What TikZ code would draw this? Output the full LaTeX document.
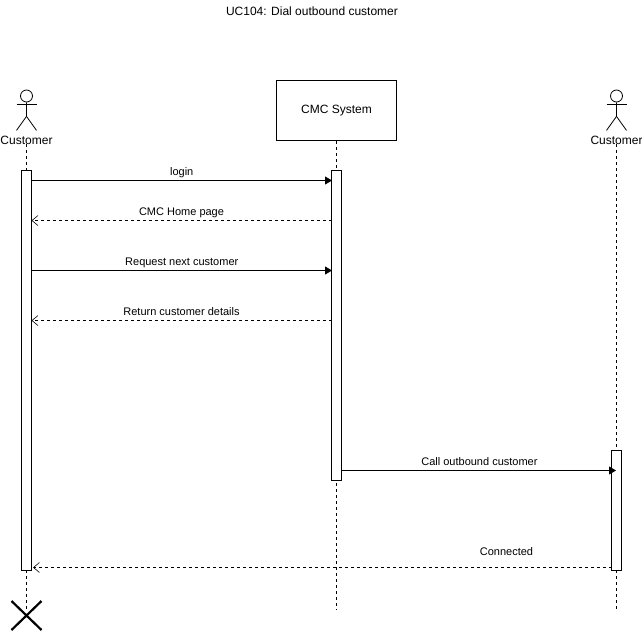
\documentclass[tikz,border=0pt]{standalone}
\usepackage{fontspec}
\setmainfont{Liberation Sans}
\usetikzlibrary{arrows.meta}
\tikzset{
    msgtext/.style={font=\fontsize{11}{13}\selectfont, inner sep=0pt, anchor=base},
    headtext/.style={font=\fontsize{12}{14}\selectfont, inner sep=0pt},
    bar/.style={draw, fill=white, minimum width=10pt, inner sep=0pt, line width=0.8pt},
    lifeline/.style={dash pattern=on 3pt off 3pt, line width=0.8pt},
    callmsg/.style={line width=0.8pt, -{Triangle[length=7pt,width=8pt]}},
    backmsg/.style={line width=0.6pt, dash pattern=on 3pt off 3pt, -{Straight Barb[length=6pt,width=10pt]}}
}
\begin{document}
\begin{tikzpicture}[x=1pt,y=1pt]
    \useasboundingbox (0,0) rectangle (642,-632);
    \node[headtext] (title) at (312,-11) { UC104: Dial outbound customer };
    % lifelines
    \node[draw, line width=0.8pt, minimum width=120pt, minimum height=60pt, headtext] (system) at (336.5,-110.5) { \raisebox{-1pt}{CMC System} };
    \node[headtext] (custleft) at (26.5,-140) { Customer };
    \node[headtext] (custright) at (616.5,-140) { Customer };
    \coordinate (endleft) at (26.5,-610);
    \coordinate (endmid) at (336.5,-610);
    \coordinate (endright) at (616.5,-610);
    \draw[lifeline] (custleft) -- (endleft);
    \draw[lifeline] (system) -- (endmid);
    \draw[lifeline] (custright) -- (endright);
    % activation bars
    \node[bar, minimum height=400pt] (barleft) at (26.5,-370.5) {};
    \node[bar, minimum height=310pt] (barmid) at (336.5,-325.5) {};
    \node[bar, minimum height=120pt] (barright) at (616.5,-510.5) {};
    % actors
    \foreach \name/\cx in {actorleft/26.5, actorright/616.5} {
        \node[draw, circle, line width=0.8pt, minimum size=12pt, inner sep=0pt] (\name) at (\cx,-96) {};
        \draw[line width=0.8pt] (\name.south) -- ++(0,-14) -- ++(-10,-14);
        \draw[line width=0.8pt] (\name.south) ++(0,-14) -- ++(10,-14);
        \draw[line width=0.8pt] (\name.south) ++(-10,-2) -- ++(20,0);
    }
    % messages
    \coordinate (loginfrom) at (31.5,-180.5);
    \coordinate (loginto) at (332,-180.5);
    \coordinate (homefrom) at (331.5,-220.5);
    \coordinate (hometo) at (31.5,-220.5);
    \coordinate (nextfrom) at (31.5,-270.5);
    \coordinate (nextto) at (332,-270.5);
    \coordinate (detailsfrom) at (331.5,-320.5);
    \coordinate (detailsto) at (31.5,-320.5);
    \coordinate (callfrom) at (341.5,-470.5);
    \coordinate (callto) at (616,-470.5);
    \coordinate (connfrom) at (611.5,-567.5);
    \coordinate (connto) at (33,-567.5);
    \draw[callmsg] (loginfrom) -- node[msgtext, yshift=5.5pt] { login } (loginto);
    \draw[backmsg] (homefrom) -- node[msgtext, yshift=5.5pt] { CMC Home page } (hometo);
    \draw[callmsg] (nextfrom) -- node[msgtext, yshift=5.5pt] { Request next customer } (nextto);
    \draw[backmsg] (detailsfrom) -- node[msgtext, yshift=5.5pt] { Return customer details } (detailsto);
    \draw[callmsg] (callfrom) -- node[msgtext, yshift=5.5pt, xshift=0.7pt] { Call outbound customer } (callto);
    \draw[backmsg] (connfrom) -- (connto);
    \node[msgtext] (connlabel) at (506.5,-555) { Connected };
    % destroy mark
    \coordinate (crossa) at (11.5,-601);
    \coordinate (crossb) at (41.5,-630);
    \coordinate (crossc) at (41.5,-601);
    \coordinate (crossd) at (11.5,-630);
    \draw[line width=2.2pt] (crossa) -- (crossb);
    \draw[line width=2.2pt] (crossc) -- (crossd);
\end{tikzpicture}
\end{document}
